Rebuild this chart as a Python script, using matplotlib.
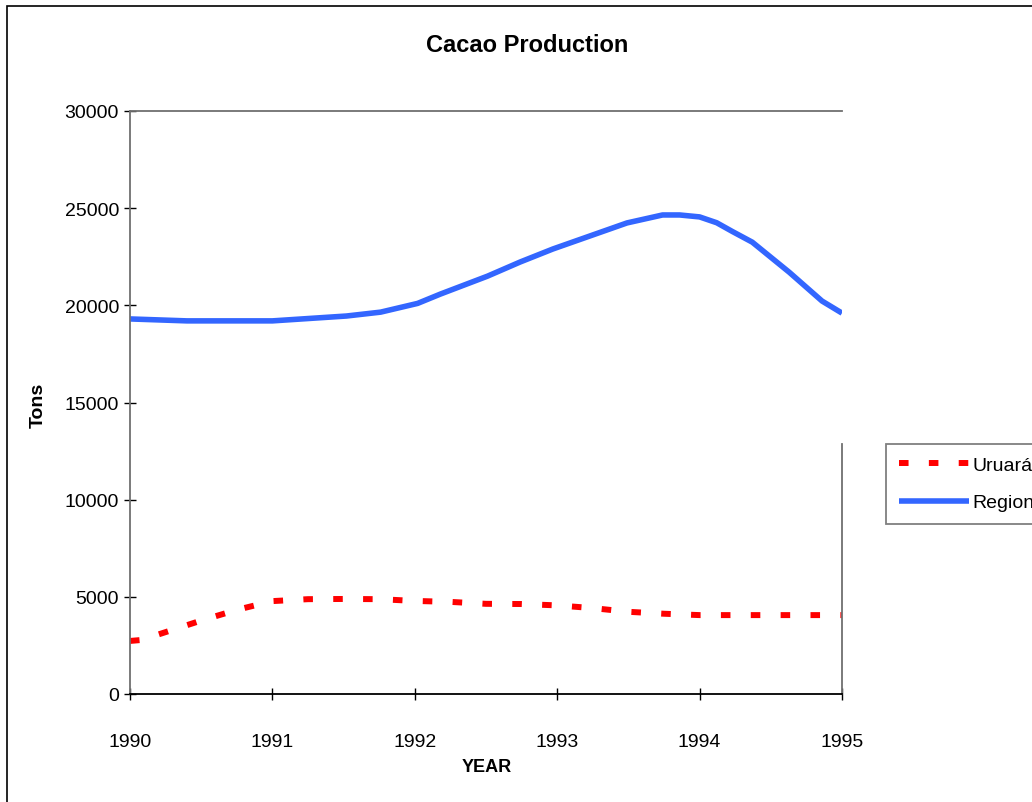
import matplotlib.pyplot as plt
from matplotlib.patches import Rectangle

plt.rcParams['font.family'] = ['Liberation Sans', 'DejaVu Sans']

# Region production (tons)
region_years = [1990.0, 1990.4, 1991.0, 1991.52, 1991.76, 1992.02, 1992.18, 1992.51,
                1992.74, 1992.97, 1993.23, 1993.49, 1993.74, 1993.86, 1994.0, 1994.12,
                1994.23, 1994.37, 1994.63, 1994.86, 1995.0]
region_tons = [19300, 19200, 19200, 19450, 19650, 20100, 20580, 21500,
               22230, 22900, 23570, 24240, 24650, 24650, 24550, 24250,
               23800, 23250, 21700, 20220, 19600]

# Uruará production (tons)
uruara_years = [1990.0, 1990.08, 1990.5, 1990.75, 1991.0, 1991.25, 1991.5, 1991.75,
                1992.0, 1992.25, 1992.5, 1992.75, 1993.0, 1993.25, 1993.5, 1993.75,
                1994.0, 1994.5, 1995.0]
uruara_tons = [2730, 2780, 3780, 4330, 4780, 4880, 4890, 4880,
               4790, 4740, 4640, 4630, 4560, 4420, 4230, 4130,
               4060, 4060, 4060]

year_ticks = [1990, 1991, 1992, 1993, 1994, 1995]
ton_ticks = [0, 5000, 10000, 15000, 20000, 25000, 30000]

fig = plt.figure(figsize=(10.32, 8.03), dpi=100)
ax = fig.add_axes([130 / 1032, 1 - 695 / 803, 712 / 1032, 583 / 803])

ax.plot(uruara_years, uruara_tons, color='#ff0000', linewidth=4.3,
        linestyle=(0, (1.6, 3.4)), dash_capstyle='butt', label='Uruará')
ax.plot(region_years, region_tons, color='#3366ff', linewidth=4.0,
        solid_capstyle='butt', label='Region')

ax.set_xlim(1990, 1995)
ax.set_ylim(0, 30000)
ax.set_xticks(year_ticks)
ax.set_xticklabels([str(y) for y in year_ticks])
ax.set_yticks(ton_ticks)
ax.set_yticklabels([str(t) for t in ton_ticks])
ax.tick_params(direction='inout', length=8, width=1, labelsize=14, colors='black')
ax.tick_params(axis='y', pad=4)
ax.tick_params(axis='x', pad=24)

ax.spines['right'].set_visible(False)
for side in ['left', 'top']:
    ax.spines[side].set_color('#707070')
    ax.spines[side].set_linewidth(1.3)
ax.spines['bottom'].set_color('black')
ax.spines['bottom'].set_linewidth(1.3)
# the right edge is only drawn below the legend
ax.plot([1, 1], [0, 250 / 583], transform=ax.transAxes, color='#707070',
        linewidth=1.3, clip_on=False)

fig.text(527 / 1032, 1 - 45 / 803, 'Cacao Production', ha='center', va='center',
         fontsize=17, fontweight='bold')
fig.text(487 / 1032, 1 - 768 / 803, 'YEAR', ha='center', va='center',
         fontsize=13, fontweight='bold')
fig.text(38 / 1032, 1 - 405 / 803, 'Tons', ha='center', va='center',
         rotation=90, fontsize=14, fontweight='bold')

leg = ax.legend(loc='upper left', bbox_to_anchor=(886 / 1032, 1 - 445 / 803),
                bbox_transform=fig.transFigure, fontsize=14, frameon=True,
                fancybox=False, borderaxespad=0, handlelength=3.6,
                handletextpad=0.2, labelspacing=1.0, borderpad=0.65)
leg.get_frame().set_edgecolor('#606060')
leg.get_frame().set_linewidth(1.3)

# outer chart border
fig.patches.append(Rectangle((7 / 1032, -0.1), 1.2, 1 - 7 / 803 + 0.1,
                             transform=fig.transFigure, fill=False,
                             edgecolor='black', linewidth=1.2))

fig.savefig('out.png', dpi=100)
